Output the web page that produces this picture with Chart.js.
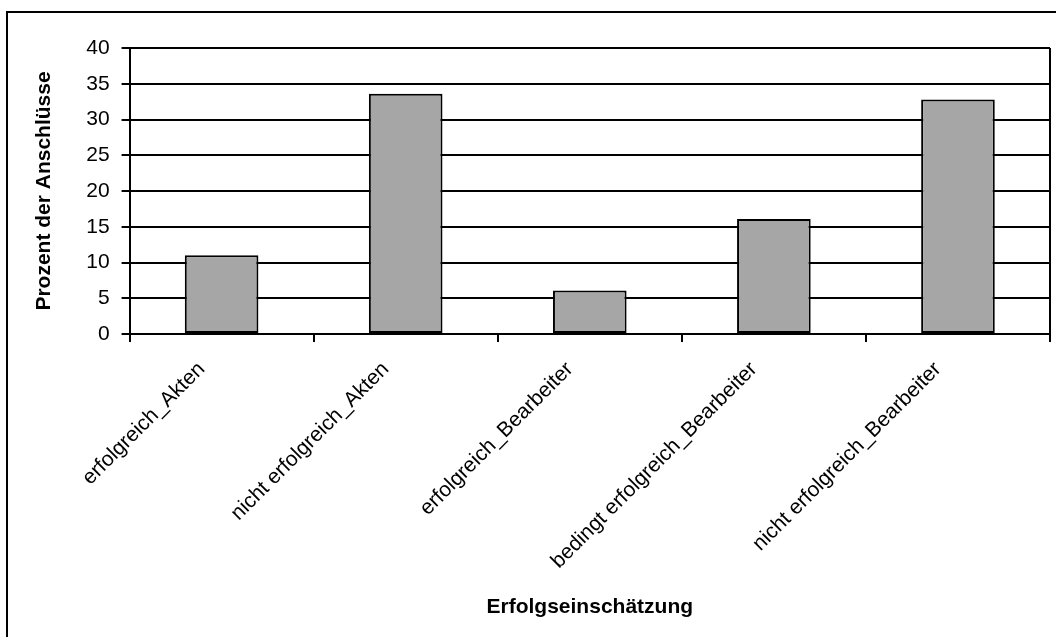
<!DOCTYPE html>
<html>
<head>
<meta charset="utf-8">
<script src="https://cdn.jsdelivr.net/npm/chart.js@4/dist/chart.umd.min.js"></script>
<style>
  html, body { margin: 0; padding: 0; background: #fff; overflow: hidden; }
  #wrap { position: relative; width: 1056px; height: 637px; }
  #frame { position: absolute; left: 6px; top: 11px; width: 1100px; height: 700px; border: 2px solid #000; box-sizing: border-box; }
  canvas { position: absolute; left: 0; top: 0; }
</style>
</head>
<body>
<div id="wrap">
  <div id="frame"></div>
  <canvas id="chart" width="1056" height="637"></canvas>
</div>
<script>
// data
const categories = [
  'erfolgreich_Akten',
  'nicht erfolgreich_Akten',
  'erfolgreich_Bearbeiter',
  'bedingt erfolgreich_Bearbeiter',
  'nicht erfolgreich_Bearbeiter'
];
const percentValues = [11, 33.6, 6.1, 16.1, 32.8];
const yTicks = [0, 5, 10, 15, 20, 25, 30, 35, 40];

const FONT = 'Liberation Sans, Arial, sans-serif';

// right border of the plot area
const plotFrame = {
  id: 'plotFrame',
  afterDraw(chart) {
    const { ctx, chartArea } = chart;
    ctx.save();
    ctx.strokeStyle = '#000';
    ctx.lineWidth = 2;
    ctx.beginPath();
    ctx.moveTo(chartArea.right, chartArea.top);
    ctx.lineTo(chartArea.right, chartArea.bottom);
    ctx.stroke();
    ctx.restore();
  }
};

new Chart(document.getElementById('chart'), {
  type: 'bar',
  data: {
    labels: categories,
    datasets: [{
      data: percentValues,
      backgroundColor: '#a6a6a6',
      borderColor: '#000',
      borderWidth: 2,
      borderSkipped: false,
      categoryPercentage: 1,
      barPercentage: 0.4
    }]
  },
  options: {
    responsive: false,
    animation: false,
    layout: { padding: { left: 32, right: 6, top: 48, bottom: 17 } },
    plugins: { legend: { display: false }, tooltip: { enabled: false } },
    scales: {
      x: {
        offset: true,
        grid: { offset: true, drawOnChartArea: false, color: '#000', lineWidth: 2, tickLength: 8 },
        border: { color: '#000', width: 2 },
        ticks: { color: '#000', minRotation: 45, maxRotation: 45, labelOffset: -20, font: { family: FONT, size: 21 }, padding: 15 },
        title: { display: true, text: 'Erfolgseinschätzung', color: '#000', font: { family: FONT, size: 21, weight: 'bold' }, padding: { top: 18, bottom: 0 } }
      },
      y: {
        min: 0,
        max: 40,
        afterBuildTicks(scale) { scale.ticks = yTicks.map(v => ({ value: v })); },
        grid: { color: '#000', lineWidth: 2, tickLength: 8 },
        border: { color: '#000', width: 2 },
        ticks: { color: '#000', font: { family: FONT, size: 21 }, padding: 12 },
        title: { display: true, text: 'Prozent der Anschlüsse', color: '#000', font: { family: FONT, size: 21, weight: 'bold' }, padding: { top: 0, bottom: 17 } }
      }
    }
  },
  plugins: [plotFrame]
});
</script>
</body>
</html>
